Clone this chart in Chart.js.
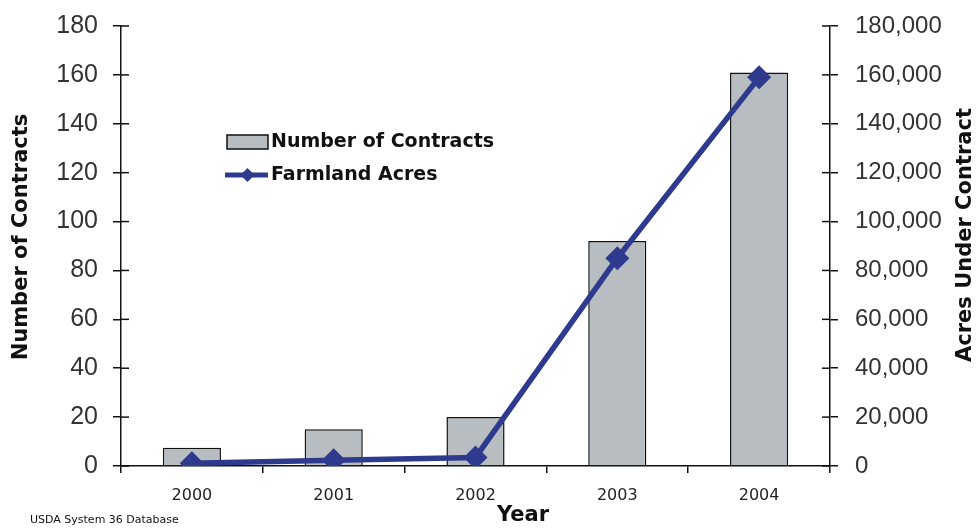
<!DOCTYPE html>
<html>
<head>
<meta charset="utf-8">
<script src="https://cdn.jsdelivr.net/npm/chart.js@4"></script>
<style>
    html, body { margin: 0; padding: 0; background: #fff; }
    #wrap { width: 978px; height: 529px; }
</style>
</head>
<body>
<div id="wrap"><canvas id="myChart" width="978" height="529"></canvas></div>
<script>
const years = ['2000', '2001', '2002', '2003', '2004'];
const contracts = [7.5, 15, 20, 92, 161];
const acres = [1100, 2400, 3500, 85000, 159000];

const barGray = '#b8bdc1';
const lineBlue = '#2d3a8e';

// short tick marks on the inner side of both value axes
const crossTicks = {
    id: 'crossTicks',
    afterDraw(chart) {
        const c = chart.ctx;
        c.save();
        c.strokeStyle = '#111';
        c.lineWidth = 1.5;
        ['y', 'y1'].forEach(function (id) {
            const s = chart.scales[id];
            s.ticks.forEach(function (t) {
                const py = s.getPixelForValue(t.value);
                const x0 = id === 'y' ? s.right : s.left;
                const dir = id === 'y' ? 1 : -1;
                c.beginPath();
                c.moveTo(x0, py);
                c.lineTo(x0 + dir * 8, py);
                c.stroke();
            });
        });
        c.restore();
    }
};

// legend box, axis titles and source note
const extras = {
    id: 'extras',
    afterDraw(chart) {
        const c = chart.ctx;
        c.save();
        // legend
        c.fillStyle = barGray;
        c.fillRect(227, 135, 41, 14);
        c.strokeStyle = '#111';
        c.lineWidth = 1.5;
        c.strokeRect(227, 135, 41, 14);
        c.strokeStyle = lineBlue;
        c.lineWidth = 5;
        c.beginPath();
        c.moveTo(225, 175);
        c.lineTo(268, 175);
        c.stroke();
        c.fillStyle = lineBlue;
        c.beginPath();
        c.moveTo(247.5, 168);
        c.lineTo(254.5, 175);
        c.lineTo(247.5, 182);
        c.lineTo(240.5, 175);
        c.closePath();
        c.fill();
        c.fillStyle = '#111';
        c.font = 'bold 19px "DejaVu Sans"';
        c.textBaseline = 'middle';
        c.textAlign = 'left';
        c.fillText('Number of Contracts', 271, 142);
        c.fillText('Farmland Acres', 271, 175);

        // axis titles
        c.font = 'bold 21px "DejaVu Sans"';
        c.textAlign = 'center';
        c.save();
        c.translate(22, 237);
        c.rotate(-Math.PI / 2);
        c.fillText('Number of Contracts', 0, 0);
        c.restore();
        c.save();
        c.translate(966, 235);
        c.rotate(-Math.PI / 2);
        c.fillText('Acres Under Contract', 0, 0);
        c.restore();
        c.fillText('Year', 523, 516);

        c.font = '11px "DejaVu Sans"';
        c.textAlign = 'left';
        c.fillText('USDA System 36 Database', 30, 520);
        c.restore();
    }
};

const ctx = document.getElementById('myChart').getContext('2d');
const myChart = new Chart(ctx, {
    data: {
        labels: years,
        datasets: [{
            type: 'line',
            label: 'Farmland Acres',
            data: acres,
            yAxisID: 'y1',
            order: 0,
            borderColor: lineBlue,
            backgroundColor: lineBlue,
            borderWidth: 5.5,
            tension: 0,
            pointStyle: 'rectRot',
            pointRadius: 12,
            pointBackgroundColor: lineBlue,
            pointBorderWidth: 0
        }, {
            type: 'bar',
            label: 'Number of Contracts',
            data: contracts,
            yAxisID: 'y',
            order: 1,
            backgroundColor: barGray,
            borderColor: '#111',
            borderWidth: 1.5,
            barPercentage: 0.41,
            categoryPercentage: 1
        }]
    },
    options: {
        responsive: false,
        animation: false,
        layout: { padding: { top: 26, left: 0, right: 0, bottom: 0 } },
        plugins: {
            legend: { display: false },
            tooltip: { enabled: false }
        },
        scales: {
            x: {
                offset: true,
                grid: {
                    offset: true,
                    drawOnChartArea: false,
                    tickLength: 7,
                    color: '#111',
                    lineWidth: 1.5
                },
                border: { color: '#111', width: 1.5 },
                ticks: {
                    color: '#222',
                    padding: 13,
                    font: { family: 'DejaVu Sans', size: 16 }
                },
                afterFit(scale) {
                    scale.height = 63;
                    scale.paddingLeft = 0;
                    scale.paddingRight = 0;
                }
            },
            y: {
                position: 'left',
                min: 0,
                max: 180,
                grid: {
                    drawOnChartArea: false,
                    tickLength: 8,
                    color: '#111',
                    lineWidth: 1.5
                },
                border: { color: '#111', width: 1.5 },
                ticks: {
                    stepSize: 20,
                    color: '#333',
                    padding: 15,
                    font: { family: '"Liberation Sans", Arial', size: 25 }
                },
                afterFit(scale) {
                    scale.width = 121;
                    scale.paddingTop = 0;
                    scale.paddingBottom = 0;
                }
            },
            y1: {
                position: 'right',
                min: 0,
                max: 180000,
                grid: {
                    drawOnChartArea: false,
                    tickLength: 8,
                    color: '#111',
                    lineWidth: 1.5
                },
                border: { color: '#111', width: 1.5 },
                ticks: {
                    stepSize: 20000,
                    color: '#333',
                    padding: 17,
                    font: { family: '"Liberation Sans", Arial', size: 24 },
                    callback: function (v) { return v.toLocaleString('en-US'); }
                },
                afterFit(scale) {
                    scale.width = 148;
                    scale.paddingTop = 0;
                    scale.paddingBottom = 0;
                }
            }
        }
    },
    plugins: [crossTicks, extras]
});
</script>
</body>
</html>
